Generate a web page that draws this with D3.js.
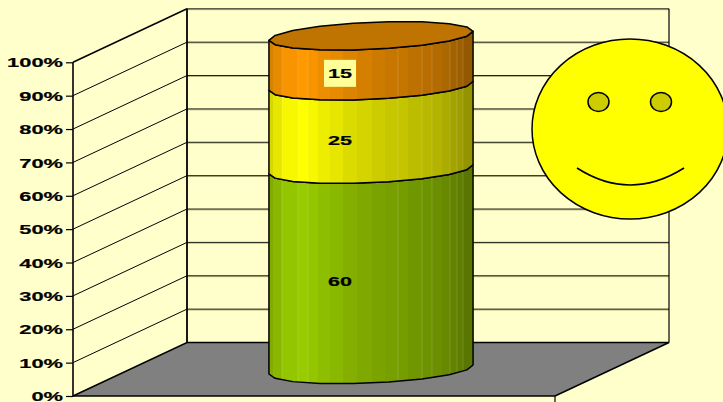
<!DOCTYPE html>
<html><head><meta charset="utf-8">
<script src="https://cdn.jsdelivr.net/npm/d3@7/dist/d3.min.js"></script>
<style>html,body{margin:0;padding:0;background:#FFFFCC;overflow:hidden}svg{display:block}
text{font-family:"Liberation Sans",Arial,sans-serif;font-weight:bold;fill:#000}</style>
</head><body><svg id="c" width="723" height="402"></svg>
<script>
const categories = ["Total"];
const seriesNames = ["A","B","C"];
const seriesValues = [60, 25, 15];
const seriesColors = ["#99CC00", "#FFFF00", "#FF9900"];
const tickValues = [0,10,20,30,40,50,60,70,80,90,100];
const facetEdges = [269,273,282,298,308,318,330,343,357,372,385,398,408,422,432,442,450,457,463,473];
const facetShades = [.84,.9,.97,1,.97,.93,.9,.86,.83,.8,.78,.77,.74,.72,.7,.67,.64,.62,.58];
const lightEdges = [282,298,308,398,422,432,450,457,463];

const svg = d3.select("#c");
const W = 723, H = 402;
const y = d3.scaleLinear().domain([0,100]).range([396,62.3]);
const depth = {dx:114, dy:-53.5};
const xFront = [73,555];
const x = d3.scaleBand().domain(categories)
  .range([xFront[0]+depth.dx/2, xFront[1]+depth.dx/2]).paddingInner(.405).paddingOuter(.405);

// walls
const walls = svg.append("g");
walls.append("path").attr("d", d3.line()([
  [xFront[0],y(0)],[xFront[0]+depth.dx,y(0)+depth.dy],[xFront[1]+depth.dx,y(0)+depth.dy],[xFront[1],y(0)]
])).attr("fill","#808080").attr("stroke","#000").attr("stroke-width",1.5);

const grid = walls.append("g");
tickValues.forEach(v=>{
  const yy = y(v), by = yy+depth.dy;
  if(v>0){
    grid.append("line").attr("x1",xFront[0]).attr("y1",yy).attr("x2",xFront[0]+depth.dx).attr("y2",by)
      .attr("stroke","#000").attr("stroke-width",v==100?1.5:1);
    grid.append("line").attr("x1",xFront[0]+depth.dx).attr("y1",by+.9).attr("x2",xFront[1]+depth.dx).attr("y2",by+.9)
      .attr("stroke","#9a9a60").attr("stroke-width",.7);
    grid.append("line").attr("x1",xFront[0]+depth.dx).attr("y1",by).attr("x2",xFront[1]+depth.dx).attr("y2",by)
      .attr("stroke","#000").attr("stroke-width",.9);
  }
});
walls.append("line").attr("x1",xFront[0]+depth.dx).attr("x2",xFront[0]+depth.dx).attr("y1",y(100)+depth.dy).attr("y2",y(0)+depth.dy).attr("stroke","#000").attr("stroke-width",1.8);
walls.append("line").attr("x1",xFront[1]+depth.dx).attr("x2",xFront[1]+depth.dx).attr("y1",y(100)+depth.dy).attr("y2",y(0)+depth.dy).attr("stroke","#000").attr("stroke-width",1.2);
walls.append("line").attr("x1",xFront[0]).attr("x2",xFront[1]).attr("y1",y(0)).attr("y2",y(0)).attr("stroke","#000").attr("stroke-width",1.4);
walls.append("line").attr("x1",xFront[1]).attr("x2",xFront[1]).attr("y1",y(0)).attr("y2",H).attr("stroke","#000").attr("stroke-width",1.2);

// axis
const axis = d3.axisLeft(y).tickValues(tickValues).tickFormat(d=>d+"%").tickSize(7).tickPadding(0);
const ag = svg.append("g").attr("transform",`translate(${xFront[0]},0)`).call(axis);
ag.select(".domain").attr("stroke","#000").attr("stroke-width",1.6).attr("d",`M0,${y(100)}V${y(0)}`);
ag.selectAll(".tick line").attr("stroke","#000").attr("stroke-width",1.2);
ag.selectAll(".tick text").attr("x",0).attr("dy","0.34em")
  .attr("transform","translate(-10,0) scale(1.62,1)")
  .style("font-size","13.5px").style("font-family",'"Liberation Sans",Arial,sans-serif').style("font-weight","bold")
  .attr("fill","#000").attr("stroke","#000").attr("stroke-width",.2);

// cylinder
const cat = categories[0];
const cx = x(cat)+x.bandwidth()/2, a = x.bandwidth()/2;
const tilt = 4.5, b = 13.5, lift = -26.5;
const rimPt = (v,deg)=>{const t=deg*Math.PI/180;return [cx+a*Math.cos(t), y(v)+lift - tilt*Math.cos(t) + b*Math.sin(t)];};
const frontAngles = d3.range(180,-1,-20);
const backAngles = d3.range(180,361,20);
let cum = 0;
const stacks = seriesValues.map((v,i)=>{const s={i,v,v0:cum,v1:cum+v,c:seriesColors[i],name:seriesNames[i]};cum+=v;return s;});
const defs = svg.append("defs");
const line = d3.line();
const cyl = svg.append("g");
stacks.forEach(s=>{
  const pts = frontAngles.map(d=>rimPt(s.v0,d)).concat(frontAngles.slice().reverse().map(d=>rimPt(s.v1,d)));
  const d = line(pts)+"Z";
  const id = "clip"+s.i;
  defs.append("clipPath").attr("id",id).append("path").attr("d",d);
  const g = cyl.append("g").attr("clip-path",`url(#${id})`);
  const shade = c=>k=>{const r=d3.rgb(c);return d3.rgb(r.r*k,r.g*k,r.b*k).formatHex();};
  g.selectAll("rect").data(facetShades).join("rect")
    .attr("x",(d,i)=>facetEdges[i]).attr("width",(d,i)=>facetEdges[i+1]-facetEdges[i]+.5)
    .attr("y",0).attr("height",H).attr("fill",k=>shade(s.c)(k));
  g.selectAll("line").data(lightEdges).join("line")
    .attr("x1",d=>d).attr("x2",d=>d).attr("y1",0).attr("y2",H)
    .attr("stroke","#fff").attr("stroke-opacity",.14).attr("stroke-width",1);
  cyl.append("path").attr("d",d).attr("fill","none").attr("stroke","#000").attr("stroke-width",1.5).attr("stroke-linejoin","round");
});
// top face: front rim left to right, then back rim right to left
const topPts = frontAngles.map(d=>rimPt(100,d)).concat(backAngles.slice(1,-1).reverse().map(d=>rimPt(100,d)));
cyl.append("path").attr("d",line(topPts)+"Z").attr("fill","#BF7300").attr("stroke","#000").attr("stroke-width",1.5).attr("stroke-linejoin","round");

// labels
stacks.forEach(s=>{
  const ly = y((s.v0+s.v1)/2)-14;
  const g = svg.append("g").attr("transform",`translate(${cx-31},${ly})`);
  if(s.i==2) g.append("rect").attr("x",-16).attr("y",-13.5).attr("width",32).attr("height",27).attr("fill","#FFFF99");
  g.append("text").attr("text-anchor","middle").attr("dy","0.34em").attr("transform","scale(1.6,1)")
    .attr("stroke","#000").attr("stroke-width",.2)
    .style("font-size","13.5px").text(s.v);
});

// smiley
const face = svg.append("g");
face.append("ellipse").attr("cx",630).attr("cy",129).attr("rx",98).attr("ry",90).attr("fill","#FFFF00").attr("stroke","#000").attr("stroke-width",1.5);
[[598.5,102],[661,102]].forEach(p=>face.append("ellipse").attr("cx",p[0]).attr("cy",p[1]).attr("rx",10.5).attr("ry",9.5).attr("fill","#CCCC00").attr("stroke","#000").attr("stroke-width",1.5));
face.append("path").attr("d","M577,168Q630,202 684,168").attr("fill","none").attr("stroke","#000").attr("stroke-width",1.6);
</script></body></html>
